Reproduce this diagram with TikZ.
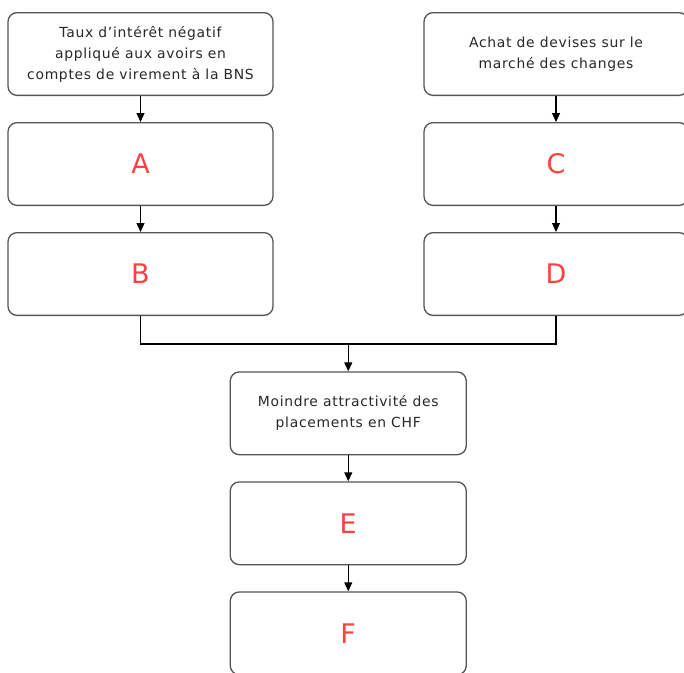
\documentclass[tikz,border=0pt]{standalone}
\usepackage{fontspec}
\setmainfont[LetterSpace=5]{DejaVu Sans}
\usetikzlibrary{positioning,arrows.meta,calc}
\definecolor{boxline}{RGB}{85,85,85}
\definecolor{boxtext}{RGB}{40,40,40}
\definecolor{letterred}{RGB}{255,64,64}

\begin{document}
\begin{tikzpicture}[node distance = 26pt,
    >={Triangle[length=9pt,width=8pt]}]
      \tikzset{BoxStyle/.style = {draw=boxline,
          line width = 1.3pt,
          rounded corners = 9pt,
          minimum height = 82.7pt,
          align = center,
          text = boxtext,
          font = \fontsize{13.9}{21}\selectfont},
        LeftBox/.style = {BoxStyle, minimum width = 265pt},
        RightBox/.style = {BoxStyle, minimum width = 264pt},
        MidBox/.style = {BoxStyle, minimum width = 236pt},
        LetterStyle/.style = {text = letterred,
          font = \fontsize{27}{30}\selectfont},
        EdgeStyle/.style = {->, line width = 1.2pt, black}}
      \useasboundingbox (0,0) rectangle (684pt,-672pt);
      \node[LeftBox] (Taux) at (140.5pt,-54pt)
        {Taux d'intérêt négatif\\appliqué aux avoirs en\\comptes de virement à la BNS};
      \node[LeftBox,LetterStyle,below=of Taux] (A) {A};
      \node[LeftBox,LetterStyle,below=of A] (B) {B};
      \node[RightBox] (Achat) at (556pt,-54pt)
        {Achat de devises sur le\\marché des changes};
      \node[RightBox,LetterStyle,below=of Achat] (C) {C};
      \node[RightBox,LetterStyle,below=of C] (D) {D};
      \coordinate (Join) at ($(B.south)!0.5!(D.south) + (0,-28pt)$);
      \node[MidBox,below=27.3pt of Join] (Moindre)
        {Moindre attractivité des\\placements en CHF};
      \node[MidBox,LetterStyle,below=of Moindre] (E) {E};
      \node[MidBox,LetterStyle,below=of E] (F) {F};
      \draw[EdgeStyle] (Taux) -- (A);
      \draw[EdgeStyle] (A) -- (B);
      \draw[EdgeStyle] (Achat) -- (C);
      \draw[EdgeStyle] (C) -- (D);
      \draw[line width = 1.2pt] (B.south) |- (Join) -| (D.south);
      \draw[EdgeStyle] (Join) -- (Moindre);
      \draw[EdgeStyle] (Moindre) -- (E);
      \draw[EdgeStyle] (E) -- (F);
    \end{tikzpicture}
\end{document}
